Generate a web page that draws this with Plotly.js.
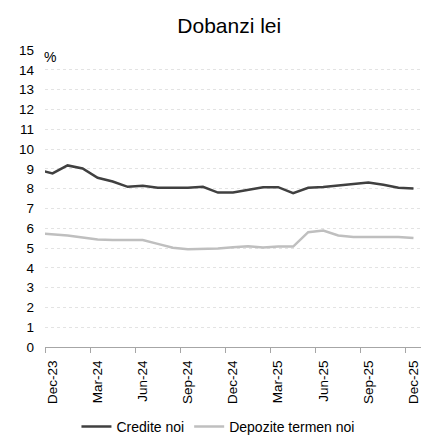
<!DOCTYPE html>
<html>
<head>
<meta charset="utf-8">
<script src="https://cdn.plot.ly/plotly-3.0.1.min.js"></script>
<style>
  html, body { margin: 0; padding: 0; background: #ffffff; }
  #chart { width: 423px; height: 439px; }
</style>
</head>
<body>
<div id="chart"></div>
<script>
// Monthly interest rates on new lei business (%)
const months = [
  "Nov-23", "Dec-23",
  "Jan-24", "Feb-24", "Mar-24", "Apr-24", "May-24", "Jun-24",
  "Jul-24", "Aug-24", "Sep-24", "Oct-24", "Nov-24", "Dec-24",
  "Jan-25", "Feb-25", "Mar-25", "Apr-25", "May-25", "Jun-25",
  "Jul-25", "Aug-25", "Sep-25", "Oct-25", "Nov-25", "Dec-25"
];

const crediteNoi = [
  8.95, 8.77,
  9.17, 9.02, 8.55, 8.36, 8.09, 8.14,
  8.04, 8.04, 8.04, 8.09, 7.80, 7.80,
  7.94, 8.07, 8.07, 7.77, 8.04, 8.08,
  8.16, 8.24, 8.31, 8.19, 8.04, 8.01
];

const depoziteTermenNoi = [
  5.75, 5.69,
  5.63, 5.53, 5.43, 5.41, 5.41, 5.40,
  5.21, 5.01, 4.94, 4.94, 4.97, 5.04,
  5.09, 5.02, 5.07, 5.07, 5.80, 5.88,
  5.63, 5.56, 5.56, 5.56, 5.55, 5.50
];

// Quarterly labels shown on the time axis
const tickLabels = ["Dec-23", "Mar-24", "Jun-24", "Sep-24", "Dec-24",
                    "Mar-25", "Jun-25", "Sep-25", "Dec-25"];

const yTicks = [0, 1, 2, 3, 4, 5, 6, 7, 8, 9, 10, 11, 12, 13, 14, 15];

// Category positions: one slot per month
const xIdx = months.map((_, i) => i);
const labelIdx = tickLabels.map(l => months.indexOf(l));
const boundaryIdx = labelIdx.map(i => i - 0.5);

const FONT = "Liberation Sans, Arial, sans-serif";

const traces = [
  {
    x: xIdx, y: crediteNoi, name: "Credite noi",
    type: "scatter", mode: "lines",
    line: { color: "#404040", width: 2.5 },
    hoverinfo: "skip"
  },
  {
    x: xIdx, y: depoziteTermenNoi, name: "Depozite termen noi",
    type: "scatter", mode: "lines",
    line: { color: "#bfbfbf", width: 2.5 },
    hoverinfo: "skip"
  }
];

const layout = {
  width: 423,
  height: 439,
  paper_bgcolor: "#ffffff",
  plot_bgcolor: "#ffffff",
  margin: { l: 45, r: 2, t: 50, b: 92, pad: 0 },
  font: { family: FONT, color: "#000000", size: 13 },
  title: {
    text: "Dobanzi lei",
    font: { family: FONT, size: 21, color: "#000000" },
    x: 0.49, xref: "paper", xanchor: "center",
    y: 1 - 26 / 439, yref: "container", yanchor: "middle"
  },
  showlegend: true,
  legend: {
    orientation: "h",
    x: 0.46, xref: "paper", xanchor: "center",
    y: 1 - 427 / 439, yref: "container", yanchor: "middle",
    font: { family: FONT, size: 14, color: "#000000" },
    itemwidth: 30,
    tracegroupgap: 0,
    bgcolor: "rgba(0,0,0,0)"
  },
  xaxis: {
    type: "linear",
    range: [0.5, months.length - 0.5],
    tickmode: "array",
    tickvals: labelIdx,
    ticktext: tickLabels,
    tickangle: -90,
    ticks: "",
    ticklabelstandoff: 7,
    tickfont: { family: FONT, size: 13.5, color: "#000000" },
    showgrid: false,
    zeroline: false,
    showline: true,
    linecolor: "#a6a6a6",
    linewidth: 1,
    minor: {
      tickmode: "array",
      tickvals: boundaryIdx,
      ticks: "outside",
      ticklen: 5,
      tickcolor: "#a6a6a6",
      tickwidth: 1,
      showgrid: false
    },
    fixedrange: true
  },
  yaxis: {
    range: [0, 15],
    tickmode: "array",
    tickvals: yTicks,
    ticktext: yTicks.map(String),
    ticks: "",
    ticklabelstandoff: 10,
    tickfont: { family: FONT, size: 13.5, color: "#000000" },
    showgrid: true,
    gridcolor: "#e3e3e3",
    gridwidth: 1,
    griddash: "dot",
    zeroline: false,
    showline: false,
    fixedrange: true
  },
  annotations: [
    {
      text: "%",
      xref: "paper", yref: "paper",
      x: 0, y: 1,
      xanchor: "left", yanchor: "top",
      xshift: -3, yshift: 3,
      showarrow: false,
      font: { family: FONT, size: 14, color: "#000000" }
    }
  ]
};

Plotly.newPlot("chart", traces, layout, { displayModeBar: false, staticPlot: true });
</script>
</body>
</html>
